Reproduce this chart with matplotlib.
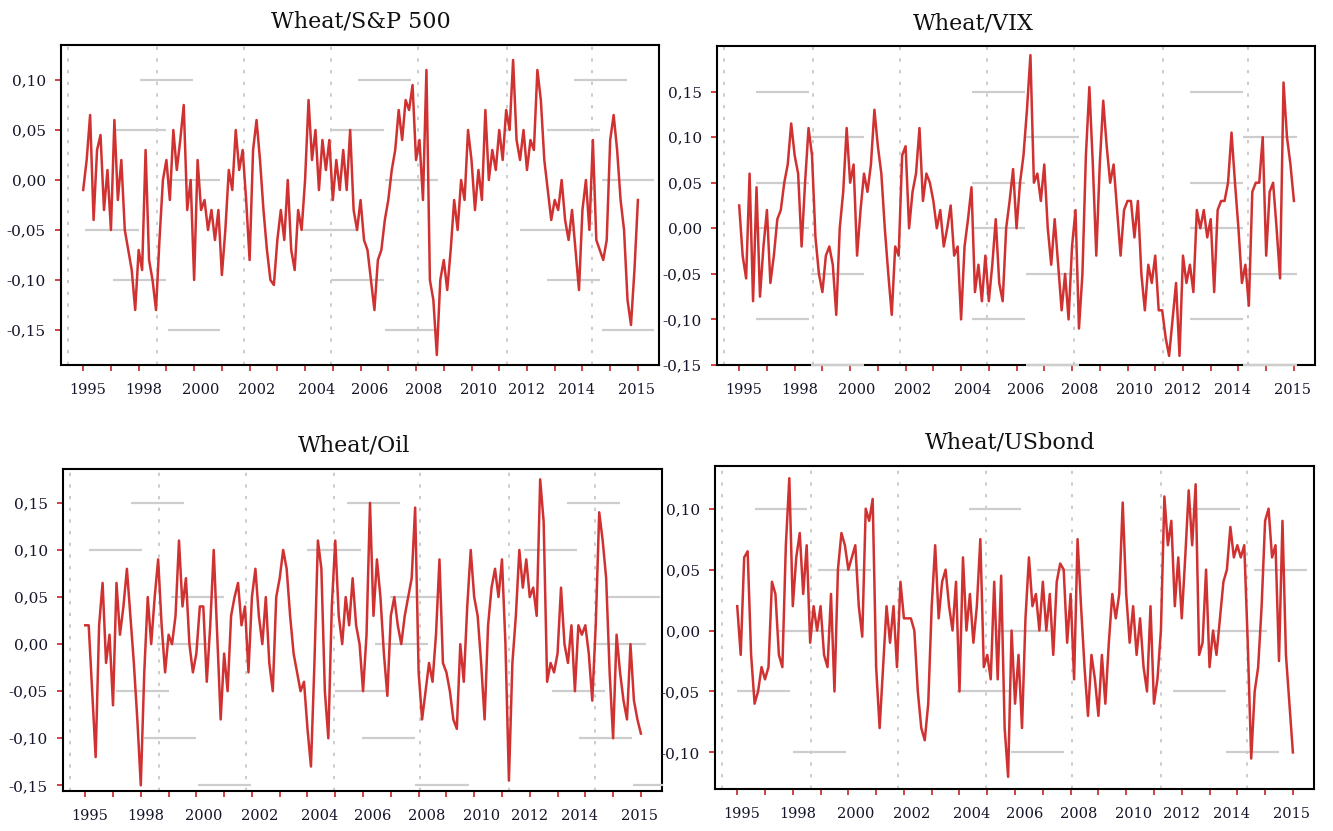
import matplotlib
matplotlib.use("Agg")
import matplotlib.pyplot as plt
import numpy as np

# weekly-ish correlations, 8 samples per year, 1995 -> 2015
sp500 = [-0.01, 0.02, 0.065, -0.04, 0.03, 0.045, -0.03, 0.01, -0.05, 0.06,
         -0.02, 0.02, -0.05, -0.07, -0.09, -0.13, -0.07, -0.09, 0.03, -0.08,
         -0.1, -0.13, -0.06, 0.0, 0.02, -0.02, 0.05, 0.01, 0.04, 0.075,
         -0.03, 0.0, -0.1, 0.02, -0.03, -0.02, -0.05, -0.03, -0.06, -0.03,
         -0.095, -0.05, 0.01, -0.01, 0.05, 0.01, 0.03, -0.02, -0.08, 0.03,
         0.06, 0.02, -0.03, -0.07, -0.1, -0.105, -0.06, -0.03, -0.06, 0.0,
         -0.07, -0.09, -0.03, -0.05, 0.0, 0.08, 0.02, 0.05, -0.01, 0.04,
         0.01, 0.04, -0.02, 0.02, -0.01, 0.03, -0.01, 0.05, -0.03, -0.05,
         -0.02, -0.06, -0.07, -0.1, -0.13, -0.08, -0.07, -0.04, -0.02, 0.01,
         0.03, 0.07, 0.04, 0.08, 0.07, 0.095, 0.02, 0.04, -0.02, 0.11,
         -0.1, -0.12, -0.175, -0.1, -0.08, -0.11, -0.07, -0.02, -0.05, 0.0,
         -0.02, 0.05, 0.02, -0.03, 0.01, -0.02, 0.07, 0.0, 0.03, 0.01,
         0.05, 0.02, 0.07, 0.05, 0.12, 0.04, 0.02, 0.05, 0.01, 0.04,
         0.03, 0.11, 0.08, 0.02, -0.01, -0.04, -0.02, -0.03, 0.0, -0.04,
         -0.06, -0.03, -0.07, -0.11, -0.03, 0.0, -0.05, 0.04, -0.06, -0.07,
         -0.08, -0.06, 0.04, 0.065, 0.03, -0.02, -0.05, -0.12, -0.145, -0.09,
         -0.02]

vix = [0.025, -0.03, -0.055, 0.06, -0.08, 0.045, -0.075, -0.02, 0.02, -0.06,
       -0.03, 0.01, 0.02, 0.05, 0.07, 0.115, 0.08, 0.06, -0.02, 0.05,
       0.11, 0.08, -0.01, -0.05, -0.07, -0.03, -0.02, -0.04, -0.095, 0.0,
       0.04, 0.11, 0.05, 0.07, -0.03, 0.02, 0.06, 0.04, 0.07, 0.13,
       0.09, 0.06, 0.0, -0.05, -0.095, -0.02, -0.03, 0.08, 0.09, 0.0,
       0.04, 0.06, 0.11, 0.03, 0.06, 0.05, 0.03, 0.0, 0.02, -0.02,
       0.0, 0.025, -0.03, -0.02, -0.1, -0.02, 0.01, 0.045, -0.07, -0.04,
       -0.08, -0.03, -0.08, -0.04, 0.01, -0.06, -0.08, 0.0, 0.03, 0.065,
       0.0, 0.05, 0.08, 0.13, 0.19, 0.05, 0.06, 0.03, 0.07, 0.0,
       -0.04, 0.01, -0.04, -0.09, -0.05, -0.1, -0.02, 0.02, -0.11, -0.05,
       0.08, 0.155, 0.07, -0.03, 0.07, 0.14, 0.09, 0.05, 0.07, 0.02,
       -0.03, 0.02, 0.03, 0.03, -0.01, 0.03, -0.05, -0.09, -0.04, -0.06,
       -0.03, -0.09, -0.09, -0.12, -0.14, -0.1, -0.06, -0.14, -0.03, -0.06,
       -0.04, -0.07, 0.02, 0.0, 0.02, -0.01, 0.01, -0.07, 0.02, 0.03,
       0.03, 0.05, 0.105, 0.05, 0.0, -0.06, -0.04, -0.085, 0.04, 0.05,
       0.05, 0.1, -0.03, 0.04, 0.05, 0.0, -0.055, 0.16, 0.1, 0.07,
       0.03]

oil = [0.02, 0.02, -0.05, -0.12, 0.02, 0.065, -0.02, 0.01, -0.065, 0.065,
       0.01, 0.04, 0.08, 0.03, -0.02, -0.08, -0.15, -0.03, 0.05, 0.0,
       0.05, 0.09, 0.02, -0.03, 0.01, 0.0, 0.03, 0.11, 0.04, 0.07,
       0.0, -0.03, -0.01, 0.04, 0.04, -0.04, 0.02, 0.1, 0.01, -0.08,
       -0.01, -0.05, 0.03, 0.05, 0.065, 0.02, 0.04, -0.03, 0.05, 0.08,
       0.03, 0.0, 0.05, -0.02, -0.05, 0.05, 0.07, 0.1, 0.08, 0.03,
       -0.01, -0.03, -0.05, -0.04, -0.09, -0.13, -0.02, 0.11, 0.08, -0.05,
       -0.1, 0.04, 0.11, 0.03, 0.0, 0.05, 0.02, 0.07, 0.02, 0.0,
       -0.05, 0.01, 0.15, 0.03, 0.09, 0.05, -0.01, -0.055, 0.03, 0.05,
       0.02, 0.0, 0.03, 0.05, 0.07, 0.145, -0.03, -0.08, -0.05, -0.02,
       -0.04, 0.01, 0.09, -0.02, -0.03, -0.05, -0.08, -0.09, 0.0, -0.04,
       0.04, 0.1, 0.05, 0.03, -0.02, -0.08, 0.02, 0.06, 0.08, 0.05,
       0.09, 0.0, -0.145, -0.02, 0.03, 0.1, 0.06, 0.09, 0.05, 0.06,
       0.03, 0.175, 0.13, -0.04, -0.02, -0.03, -0.01, 0.06, 0.0, -0.02,
       0.02, -0.05, 0.02, 0.01, 0.02, -0.01, -0.06, 0.02, 0.14, 0.11,
       0.07, -0.03, -0.1, 0.01, -0.03, -0.06, -0.08, 0.0, -0.06, -0.08,
       -0.095]

usbond = [0.02, -0.02, 0.06, 0.065, -0.02, -0.06, -0.05, -0.03, -0.04, -0.03,
          0.04, 0.03, -0.02, -0.03, 0.07, 0.125, 0.02, 0.06, 0.08, 0.03,
          0.07, -0.01, 0.02, 0.0, 0.02, -0.02, -0.03, 0.03, -0.05, 0.05,
          0.08, 0.07, 0.05, 0.06, 0.07, 0.02, -0.005, 0.1, 0.09, 0.108,
          -0.03, -0.08, -0.03, 0.02, -0.01, 0.02, -0.03, 0.04, 0.01, 0.01,
          0.01, 0.0, -0.05, -0.08, -0.09, -0.06, 0.02, 0.07, 0.01, 0.04,
          0.05, 0.02, 0.0, 0.04, -0.05, 0.06, 0.0, 0.03, -0.01, 0.02,
          0.075, -0.03, -0.02, -0.04, 0.04, -0.04, 0.045, -0.08, -0.12, 0.0,
          -0.06, -0.02, -0.08, 0.01, 0.06, 0.02, 0.03, 0.0, 0.04, 0.0,
          0.03, -0.02, 0.04, 0.055, 0.05, -0.01, 0.03, -0.04, 0.075, 0.02,
          -0.03, -0.07, -0.02, -0.04, -0.07, -0.02, -0.06, -0.01, 0.03, 0.01,
          0.03, 0.105, 0.03, -0.01, 0.02, -0.02, 0.01, -0.03, -0.05, 0.02,
          -0.06, -0.04, 0.0, 0.11, 0.07, 0.09, 0.02, 0.06, 0.01, 0.06,
          0.115, 0.07, 0.12, -0.02, -0.01, 0.05, -0.03, 0.0, -0.02, 0.01,
          0.04, 0.05, 0.085, 0.06, 0.07, 0.06, 0.07, -0.01, -0.105, -0.05,
          -0.03, 0.02, 0.09, 0.1, 0.06, 0.07, -0.025, 0.09, -0.02, -0.06,
          -0.1]

dates = 1995 + np.arange(len(sp500)) / 8.0

titles = ["Wheat/S&P 500", "Wheat/VIX", "Wheat/Oil", "Wheat/USbond"]
year_ticks = np.arange(1995, 2016)
year_labels = ["1995", "1998", "2000", "2002", "2004", "2006", "2008",
               "2010", "2012", "2014", "2015"]
year_label_pos = [1995.17, 1997.18, 1999.25, 2001.27, 2003.42, 2005.34,
                  2007.29, 2009.27, 2011.0, 2012.8, 2014.96]
vgrid = [1994.46, 1997.67, 2000.78, 2003.94, 2007.06, 2010.27, 2013.36]

# the faint grey grid pieces, (level, start, end) per panel
seg_sp500 = [(0.10, 1997.05, 1998.96), (0.05, 1996.08, 1997.99), (0.0, 1998.06, 1999.94),
             (-0.05, 1995.07, 1997.02), (-0.10, 1996.08, 1997.99), (-0.15, 1998.06, 1999.94),
             (0.10, 2004.91, 2006.82), (0.05, 2003.9, 2005.85), (0.0, 2005.88, 2007.79),
             (-0.05, 2002.93, 2004.87), (-0.10, 2003.94, 2005.85), (-0.15, 2005.88, 2007.79),
             (0.10, 2012.7, 2014.6), (0.05, 2011.72, 2013.63), (0.0, 2013.7, 2015.58),
             (-0.05, 2010.75, 2012.7), (-0.10, 2011.72, 2013.63), (-0.15, 2013.7, 2015.58)]
seg_vix = []
for a, b in [(1995.6, 1997.5), (2003.4, 2005.3), (2011.27, 2013.15)]:
    seg_vix += [(0.15, a, b), (0.05, a, b), (0.0, a, b), (-0.10, a, b)]
for a, b in [(1997.6, 1999.5), (2005.35, 2007.26), (2013.15, 2015.1)]:
    seg_vix += [(0.10, a, b), (-0.05, a, b), (-0.15, a, b)]
seg_oil = [(0.15, 1996.66, 1998.57), (0.10, 1995.14, 1997.06), (0.05, 1998.07, 1999.98),
           (0.0, 1997.6, 1999.5), (-0.05, 1996.1, 1998.0), (-0.10, 1997.1, 1999.0),
           (-0.15, 1999.07, 2000.95),
           (0.15, 2004.43, 2006.34), (0.10, 2003.0, 2004.93), (0.05, 2005.97, 2007.85),
           (0.0, 2005.42, 2007.33), (-0.05, 2004.0, 2005.9), (-0.10, 2004.96, 2006.88),
           (-0.15, 2006.86, 2008.8),
           (0.15, 2012.33, 2014.24), (0.10, 2010.8, 2012.7), (0.05, 2013.77, 2015.7),
           (0.0, 2013.27, 2015.18), (-0.05, 2011.8, 2013.7), (-0.10, 2012.76, 2014.67),
           (-0.15, 2014.7, 2015.8)]
seg_usbond = [(0.10, 1995.65, 1997.5), (0.05, 1997.9, 1999.8), (0.0, 1996.5, 1998.4),
              (-0.05, 1995.0, 1996.9), (-0.10, 1997.0, 1998.9),
              (0.10, 2003.35, 2005.2), (0.05, 2005.8, 2007.7), (0.0, 2004.35, 2006.25),
              (-0.05, 2002.9, 2004.8), (-0.10, 2004.85, 2006.75),
              (0.10, 2011.2, 2013.1), (0.05, 2013.6, 2015.5), (0.0, 2012.14, 2014.06),
              (-0.05, 2010.7, 2012.6), (-0.10, 2012.6, 2014.5)]

series = [sp500, vix, oil, usbond]
segments = [seg_sp500, seg_vix, seg_oil, seg_usbond]
ylims = [(-0.185, 0.135), (-0.15, 0.2), (-0.156, 0.186), (-0.130, 0.135)]
yticks = [np.arange(-0.15, 0.101, 0.05), np.arange(-0.15, 0.151, 0.05),
          np.arange(-0.15, 0.151, 0.05), np.arange(-0.10, 0.101, 0.05)]

W, H = 1333, 831
boxes = [(61, 45, 659, 365), (717, 46, 1315, 365), (63, 469, 662, 791), (715, 466, 1314, 789)]
title_xy = [(361, 21), (973, 24), (354, 446), (1010, 443)]

red = "#d03232"
font = "DejaVu Serif"
ink = "#15152a"

fig = plt.figure(figsize=(W / 100, H / 100), dpi=100)

for k in range(4):
    l, t, r, b = boxes[k]
    ax = fig.add_axes([l / W, 1 - b / H, (r - l) / W, (b - t) / H])
    ax.set_xlim(1994.2, 2015.76)
    ax.set_ylim(*ylims[k])

    for xv in vgrid:
        ax.axvline(xv, color="#c4c4c4", lw=1.2, ls=(0, (2, 5)), zorder=1)
    for lev, x0, x1 in segments[k]:
        ax.plot([x0, x1], [lev, lev], color="#cdcdcd", lw=1.6, zorder=3,
                clip_on=False, solid_capstyle="butt")

    ax.plot(dates, series[k], color=red, lw=1.8, zorder=4)

    for s in ax.spines.values():
        s.set_linewidth(1.5)
        s.set_color("black")

    ax.set_yticks(yticks[k])
    ax.set_yticklabels([("%.2f" % v).replace(".", ",").replace("-0,00", "0,00")
                        for v in yticks[k]])
    ax.set_xticks(year_ticks)
    ax.set_xticklabels([])
    ax.tick_params(axis="both", direction="out", color=red, width=1.3)
    ax.tick_params(axis="y", length=4, pad=7, labelsize=11, labelcolor=ink)
    ax.tick_params(axis="x", length=4.5)
    for lab in ax.get_yticklabels():
        lab.set_fontfamily(font)

    for txt, pos in zip(year_labels, year_label_pos):
        ax.annotate(txt, xy=(pos, 0), xycoords=("data", "axes fraction"),
                    xytext=(0, -18), textcoords="offset points",
                    ha="center", va="center", fontsize=10.5,
                    family=font, color=ink)

    tx, ty = title_xy[k]
    fig.text(tx / W, 1 - ty / H, titles[k], ha="center", va="center",
             fontsize=16, family=font, color="#111111")

fig.savefig("out.png", dpi=100)
